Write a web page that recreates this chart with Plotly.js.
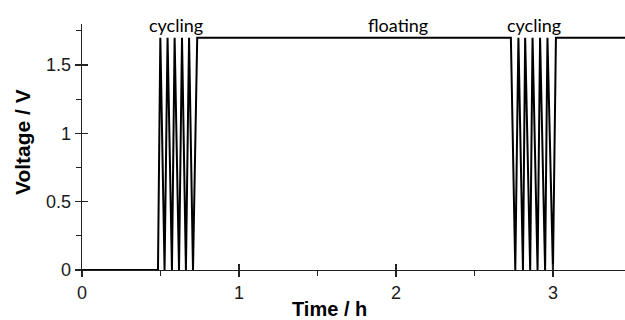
<!DOCTYPE html>
<html>
<head>
<meta charset="utf-8">
<script src="https://cdn.plot.ly/plotly-3.0.1.min.js"></script>
<style>html,body{margin:0;padding:0;background:#fff;}#chart{width:625px;height:320px;}</style>
</head>
<body>
<div id="chart"></div>
<script>
// Time (h) and voltage (V)
const time_h = [0, 0.484, 0.499, 0.526, 0.545, 0.573, 0.590, 0.618, 0.637, 0.662, 0.682, 0.707, 0.734,
                2.732, 2.760, 2.780, 2.809, 2.823, 2.855, 2.870, 2.902, 2.918, 2.950, 2.965, 3.000, 3.019, 3.5];
const voltage_V = [0, 0, 1.7, 0, 1.7, 0, 1.7, 0, 1.7, 0, 1.7, 0, 1.7,
                   1.7, 0, 1.7, 0, 1.7, 0, 1.7, 0, 1.7, 0, 1.7, 0, 1.7, 1.7];
const phaseLabels = ["cycling", "floating", "cycling"];
const phaseLabelX = [0.597, 2.01, 2.88];
const xTicks = [0, 1, 2, 3];
const yTicks = [0, 0.5, 1, 1.5];
const yTickText = ["0", "0.5", "1", "1.5"];

const tickFont = {family: "Liberation Sans, Arial, sans-serif", size: 18, color: "#1a1a1a"};
const axisCommon = {showgrid: false, zeroline: false, showline: true, linecolor: "#222", linewidth: 1.3,
                    tickcolor: "#222", tickwidth: 1.3};

const trace = {x: time_h, y: voltage_V, type: "scatter", mode: "lines",
               line: {color: "#000", width: 2}, hoverinfo: "none"};
const dummy = {x: [0], y: [0], xaxis: "x2", yaxis: "y2", mode: "markers", marker: {opacity: 0}, hoverinfo: "none"};

const xr = [0, 3.459], yr = [0, 1.8];
const layout = {
  width: 625, height: 320,
  margin: {l: 82, r: 0, t: 24, b: 50},
  paper_bgcolor: "#fff", plot_bgcolor: "#fff",
  showlegend: false,
  xaxis: Object.assign({}, axisCommon, {range: xr, tickvals: xTicks, ticks: "outside", ticklen: 6,
         tickfont: tickFont, minor: {tickvals: [0.5, 1.5, 2.5], ticks: "outside", ticklen: 5, tickcolor: "#222", tickwidth: 1.3}}),
  yaxis: Object.assign({}, axisCommon, {range: yr, tickvals: yTicks, ticktext: yTickText, ticks: "outside", ticklen: 6,
         tickfont: tickFont, minor: {tickvals: [0.25, 0.75, 1.25, 1.75], ticks: "outside", ticklen: 5, tickcolor: "#222", tickwidth: 1.3}}),
  xaxis2: Object.assign({}, axisCommon, {range: xr, overlaying: "x", tickvals: xTicks, ticks: "inside", ticklen: 6, showticklabels: false, showline: false}),
  yaxis2: Object.assign({}, axisCommon, {range: yr, overlaying: "y", tickvals: yTicks, ticks: "inside", ticklen: 6, showticklabels: false, showline: false}),
  annotations: phaseLabels.map((t, i) => ({
    text: t, x: phaseLabelX[i], y: 0.995, xref: "x", yref: "paper", showarrow: false, yanchor: "middle",
    font: {family: "Lato, 'Open Sans', sans-serif", size: 18, color: "#000"}
  })).concat([
    {text: "<b>Time / h</b>", xref: "paper", yref: "paper", x: (329 - 82) / 543, y: -(309 - 270) / 246,
     showarrow: false, yanchor: "middle", font: {family: "Liberation Sans, Arial, sans-serif", size: 20, color: "#000"}},
    {text: "<b>Voltage / V</b>", xref: "paper", yref: "paper", x: (22 - 82) / 543, y: (270 - 142) / 246,
     showarrow: false, textangle: -90, xanchor: "center", yanchor: "middle", font: {family: "Liberation Sans, Arial, sans-serif", size: 21, color: "#000"}}
  ])
};
Plotly.newPlot("chart", [trace, dummy], layout, {staticPlot: true, displayModeBar: false});
</script>
</body>
</html>
